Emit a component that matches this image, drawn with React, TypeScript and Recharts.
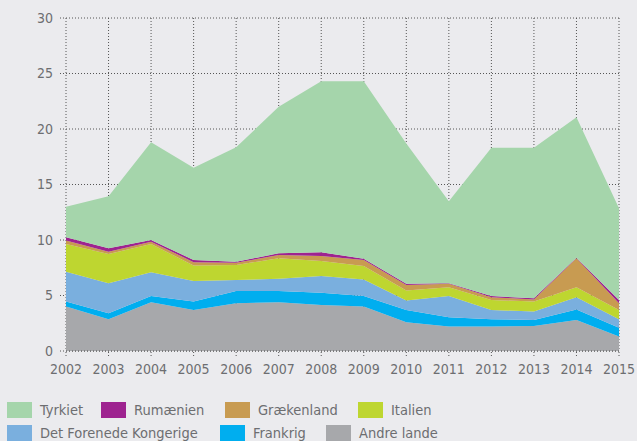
import { AreaChart, Area, XAxis, YAxis, CartesianGrid } from 'recharts';

const years = ['2002', '2003', '2004', '2005', '2006', '2007', '2008', '2009', '2010', '2011', '2012', '2013', '2014', '2015'];
const andreLande = [4.0, 2.85, 4.4, 3.7, 4.3, 4.4, 4.15, 4.0, 2.6, 2.2, 2.2, 2.25, 2.8, 1.3];
const frankrig = [0.45, 0.55, 0.55, 0.75, 1.1, 1.0, 1.1, 0.95, 1.1, 0.85, 0.65, 0.55, 0.95, 0.8];
const forenedeKongerige = [2.7, 2.7, 2.15, 1.85, 1.0, 1.1, 1.5, 1.5, 0.85, 1.9, 0.85, 0.75, 1.1, 0.75];
const italien = [2.5, 2.65, 2.55, 1.4, 1.35, 1.85, 1.35, 1.2, 0.9, 0.8, 0.9, 0.9, 0.9, 0.85];
const graekenland = [0.3, 0.2, 0.2, 0.3, 0.2, 0.3, 0.45, 0.55, 0.5, 0.3, 0.25, 0.2, 2.6, 0.6];
const rumaenien = [0.3, 0.3, 0.15, 0.2, 0.1, 0.15, 0.35, 0.1, 0.1, 0.05, 0.1, 0.1, 0.05, 0.3];
const tyrkiet = [2.75, 4.7, 8.8, 8.3, 10.3, 13.2, 15.4, 16.0, 12.65, 7.4, 13.35, 13.55, 12.65, 8.25];
const yTicks = [0, 5, 10, 15, 20, 25, 30];

// bottom of the stack first
const series = [
  { key: 'andre', name: 'Andre lande', color: '#a7a8ab', values: andreLande },
  { key: 'frankrig', name: 'Frankrig', color: '#00aeef', values: frankrig },
  { key: 'uk', name: 'Det Forenede Kongerige', color: '#7aafde', values: forenedeKongerige },
  { key: 'italien', name: 'Italien', color: '#bed630', values: italien },
  { key: 'graekenland', name: 'Grækenland', color: '#c89b51', values: graekenland },
  { key: 'rumaenien', name: 'Rumænien', color: '#9e2390', values: rumaenien },
  { key: 'tyrkiet', name: 'Tyrkiet', color: '#a5d5ab', values: tyrkiet },
];

const data = years.map((year, i) => {
  const row: Record<string, string | number> = { year };
  series.forEach((s) => { row[s.key] = s.values[i]; });
  return row;
});

const FONT = "'Liberation Sans Narrow', 'DejaVu Sans Condensed', sans-serif";
const TEXT = '#6d6e71';
const GRID = '#555';

const legendRows = [
  [['tyrkiet', 7], ['rumaenien', 101], ['graekenland', 225], ['italien', 358]],
  [['uk', 7], ['frankrig', 220], ['andre', 326]],
] as const;

function ChartLegend() {
  return (
    <div style={{ position: 'absolute', left: 0, top: 402, width: 637, fontFamily: FONT, fontSize: 14.5, color: TEXT }}>
      {legendRows.map((row, r) => (
        <div key={r} style={{ position: 'relative', height: 23 }}>
          {row.map(([key, left]) => {
            const s = series.find((x) => x.key === key)!;
            return (
              <div key={key} style={{ position: 'absolute', left, top: 0, display: 'flex', alignItems: 'center', whiteSpace: 'nowrap' }}>
                <span style={{ width: 25, height: 16, background: s.color, display: 'inline-block', marginRight: 8 }} />
                <span style={{ lineHeight: '16px' }}>{s.name}</span>
              </div>
            );
          })}
        </div>
      ))}
    </div>
  );
}

export default function App() {
  return (
    <div style={{ position: 'fixed', left: 0, top: 0, width: 637, height: 441, background: '#ebebee', overflow: 'hidden' }}>
      <AreaChart width={637} height={441} data={data} margin={{ top: 18, right: 18, bottom: 60, left: 0 }}>
        <CartesianGrid stroke={GRID} strokeDasharray="1 2" />
        <XAxis
          dataKey="year"
          height={30}
          axisLine={{ stroke: GRID, strokeDasharray: '1 2' }}
          tickLine={{ stroke: GRID, strokeDasharray: '1 2' }}
          tickSize={5}
          tickMargin={8}
          interval={0}
          tick={{ fill: TEXT, fontSize: 14, fontFamily: FONT }}
        />
        <YAxis
          width={66}
          domain={[0, 30]}
          ticks={yTicks}
          axisLine={false}
          tickLine={{ stroke: GRID, strokeDasharray: '1 2' }}
          tickSize={6}
          tickMargin={7}
          tick={{ fill: TEXT, fontSize: 14, fontFamily: FONT }}
        />
        {series.map((s) => (
          <Area
            key={s.key}
            type="linear"
            dataKey={s.key}
            name={s.name}
            stackId="1"
            stroke="none"
            fill={s.color}
            fillOpacity={1}
            isAnimationActive={false}
          />
        ))}
      </AreaChart>
      <ChartLegend />
    </div>
  );
}
